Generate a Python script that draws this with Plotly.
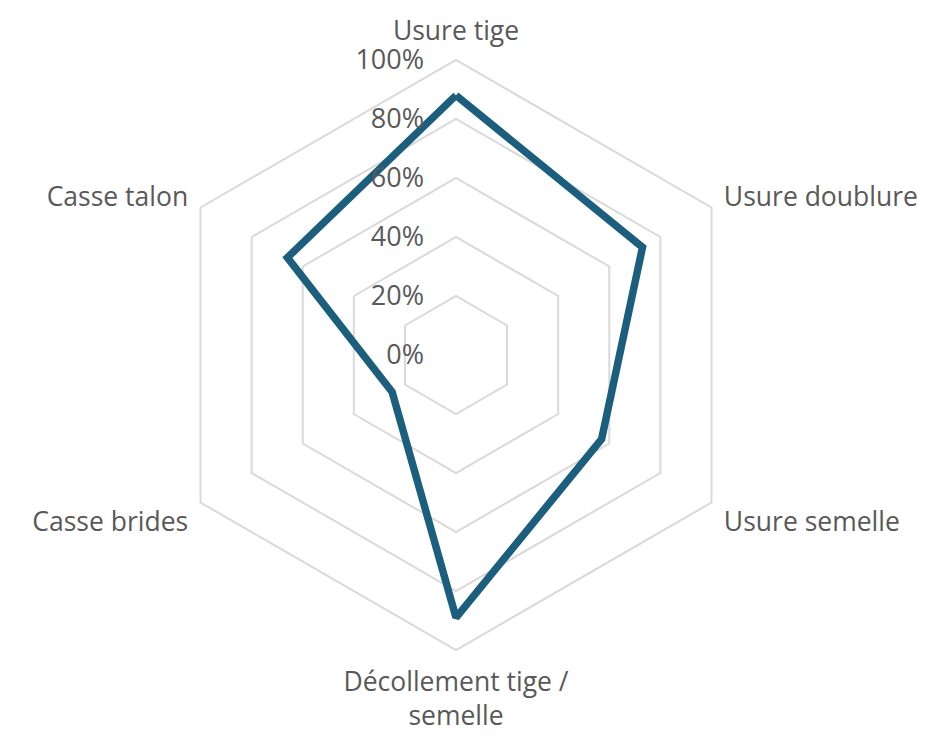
import plotly.graph_objects as go

categories = ["Usure tige", "Usure doublure", "Usure semelle",
              "Décollement tige /<br>semelle", "Casse brides", "Casse talon"]
values = [0.88, 0.73, 0.57, 0.89, 0.25, 0.66]
tick_vals = [0, 0.2, 0.4, 0.6, 0.8, 1.0]
tick_text = ["0%", "20%", "40%", "60%", "80%", "100%"]

r = values + values[:1]
theta = categories + categories[:1]

fig = go.Figure()
fig.add_trace(go.Scatterpolar(
    r=r, theta=theta, mode="lines",
    line=dict(color="#1b5e7e", width=7.5),
    showlegend=False, hoverinfo="skip",
))

grid = "#d9d9d9"
fig.update_layout(
    width=929, height=737,
    margin=dict(l=153, r=186, t=52, b=95),
    paper_bgcolor="white",
    font=dict(family="Open Sans", size=26.5, color="#595959"),
    polar=dict(
        bgcolor="white",
        gridshape="linear",
        angularaxis=dict(
            direction="clockwise", rotation=90,
            showgrid=False, showline=True, linecolor=grid, linewidth=2,
            ticks="outside", ticklen=8, tickcolor="rgba(0,0,0,0)",
            tickfont=dict(size=26.5, color="#595959"),
        ),
        radialaxis=dict(
            range=[0, 1], angle=90, tickangle=90,
            tickvals=tick_vals, ticktext=tick_text,
            showline=False, showgrid=True, gridcolor=grid, gridwidth=2,
            ticks="outside", ticklen=22, tickcolor="rgba(0,0,0,0)",
            side="counterclockwise",
            tickfont=dict(size=27, color="#595959"),
        ),
    ),
)

fig.write_html("out.html")
